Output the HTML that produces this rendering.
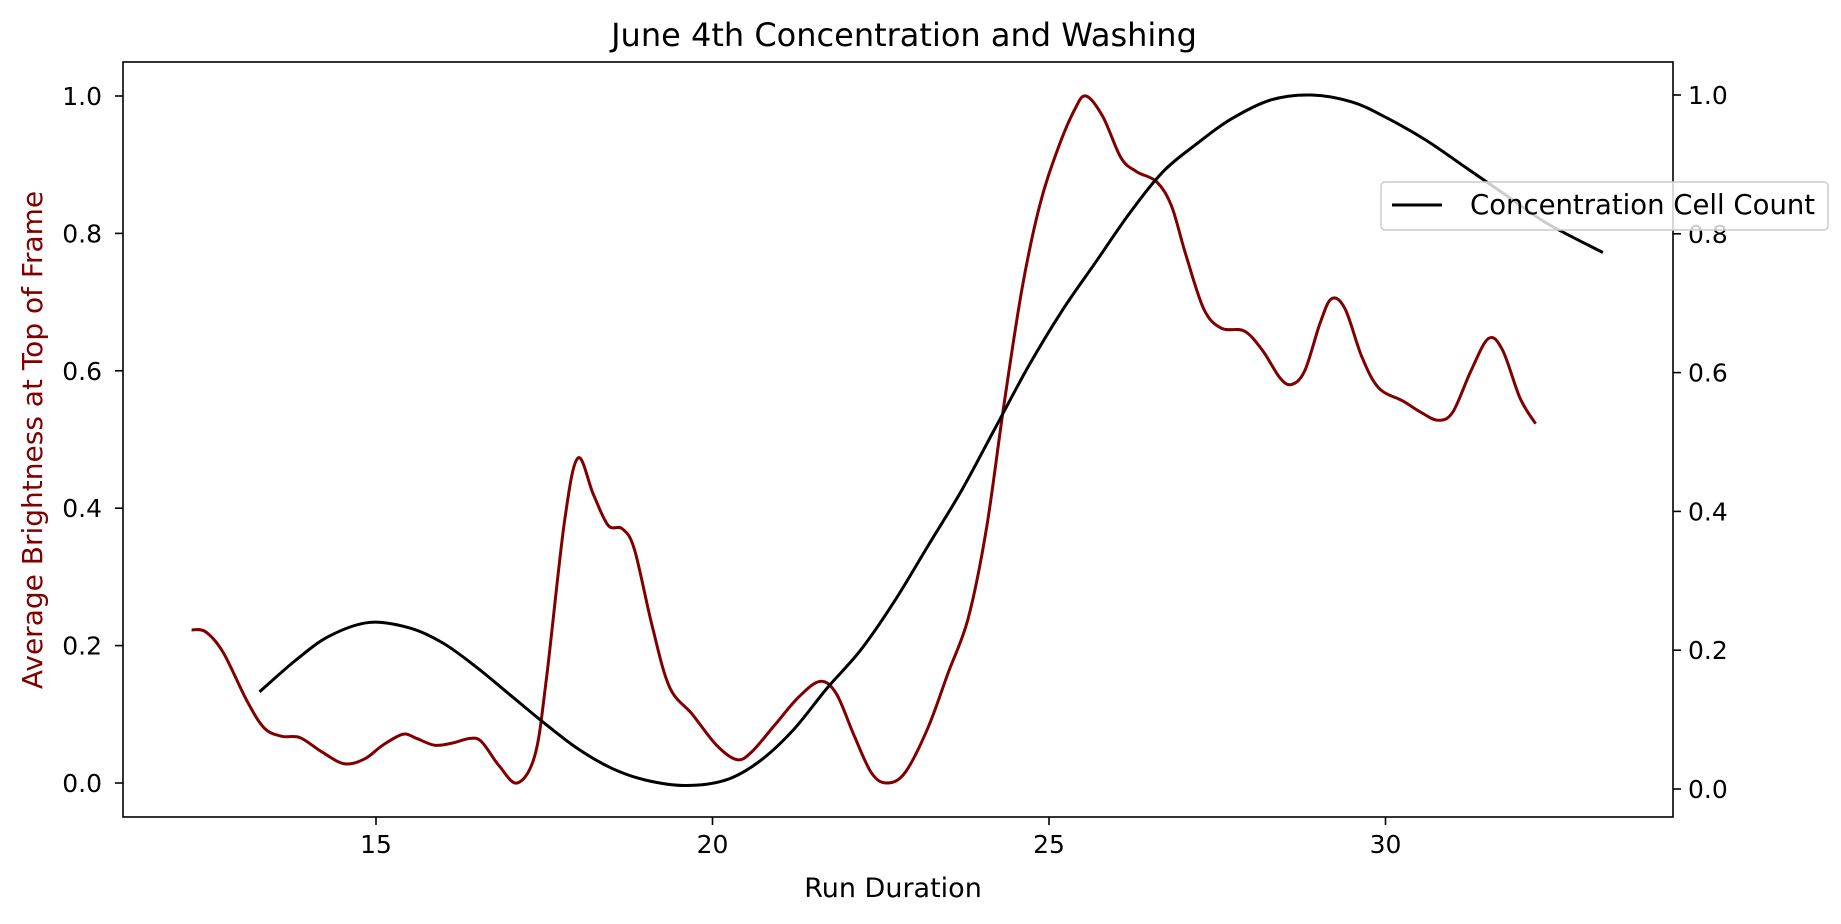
<!DOCTYPE html>
<html><head><meta charset="utf-8"><style>
body{margin:0;background:#fff;}
svg{display:block;font-family:"DejaVu Sans","Liberation Sans",sans-serif;}
</style></head><body>
<svg id="chart" width="1841" height="924">
<text x="904" y="46" font-size="32" text-anchor="middle">June 4th Concentration and Washing</text>
<rect x="123" y="62" width="1550" height="755" fill="none" stroke="#000" stroke-width="1.6"/>
<g id="xt"></g>
<g id="yl"></g>
<g id="yr"></g>
<text x="893" y="897" font-size="27" text-anchor="middle">Run Duration</text>
<text transform="translate(42,440) rotate(-90)" font-size="28" fill="#800000" text-anchor="middle">Average Brightness at Top of Frame</text>
<path id="red" fill="none" stroke="#800000" stroke-width="3"/>
<path id="blk" fill="none" stroke="#000" stroke-width="3"/>
<g>
<rect x="1381" y="182" width="447" height="48" rx="4" fill="#fff" fill-opacity="0.8" stroke="#ccc" stroke-width="1.5"/>
<line x1="1392" y1="205" x2="1442" y2="205" stroke="#000" stroke-width="3"/>
<text x="1470" y="214" font-size="27.5">Concentration Cell Count</text>
</g>
</svg>
<script>
const redX=[12.26,12.47,12.73,13.08,13.34,13.6,13.87,14.2,14.53,14.83,15.1,15.4,15.6,15.87,16.13,16.4,16.57,16.83,17.1,17.36,17.53,17.8,18.0,18.23,18.45,18.66,18.84,19.1,19.36,19.7,20.06,20.36,20.58,20.93,21.28,21.6,21.84,22.1,22.36,22.59,22.86,23.2,23.5,23.8,24.07,24.33,24.6,24.86,25.12,25.38,25.55,25.8,26.07,26.3,26.6,26.82,27.03,27.3,27.56,27.9,28.17,28.43,28.6,28.8,29.03,29.2,29.4,29.65,29.9,30.26,30.52,30.78,31.0,31.27,31.53,31.74,32.0,32.23];
const redY=[0.223,0.22,0.19,0.12,0.08,0.068,0.066,0.045,0.028,0.035,0.055,0.071,0.065,0.055,0.058,0.065,0.06,0.025,0.0,0.04,0.15,0.38,0.473,0.42,0.375,0.37,0.34,0.23,0.14,0.1,0.055,0.034,0.045,0.085,0.125,0.148,0.13,0.07,0.015,0.0,0.015,0.08,0.16,0.24,0.37,0.55,0.72,0.84,0.92,0.98,1.0,0.97,0.91,0.89,0.875,0.84,0.77,0.69,0.662,0.658,0.63,0.59,0.58,0.6,0.67,0.705,0.69,0.62,0.575,0.556,0.54,0.528,0.54,0.6,0.647,0.63,0.56,0.523];
const blkX=[13.27,13.8,14.3,14.9,15.5,16.0,16.5,17.0,17.5,18.0,18.5,19.0,19.6,20.2,20.7,21.2,21.7,22.2,22.7,23.2,23.7,24.2,24.7,25.2,25.7,26.2,26.7,27.2,27.7,28.3,28.9,29.5,30.0,30.6,31.2,31.8,32.4,33.23];
const blkY=[0.14,0.185,0.22,0.24,0.232,0.21,0.175,0.135,0.095,0.058,0.03,0.013,0.005,0.013,0.04,0.085,0.145,0.2,0.27,0.35,0.43,0.52,0.61,0.69,0.76,0.83,0.89,0.93,0.965,0.993,1.0,0.99,0.968,0.935,0.895,0.855,0.815,0.773];
const xTicks=[15,20,25,30];
const yTicks=[0.0,0.2,0.4,0.6,0.8,1.0];
const sx=v=>376+(v-15)*67.3;
const syL=v=>783-v*687;
const syR=v=>789-v*694;
const NS="http://www.w3.org/2000/svg";
function mk(tag,attrs,parent,txt){const e=document.createElementNS(NS,tag);for(const k in attrs)e.setAttribute(k,attrs[k]);if(txt!==undefined)e.textContent=txt;parent.appendChild(e);return e;}
function path(xs,ys,fy){const p=xs.map((x,i)=>[sx(x),fy(ys[i])]);let d="M"+p[0][0]+","+p[0][1];
for(let i=0;i<p.length-1;i++){const p0=p[Math.max(i-1,0)],p1=p[i],p2=p[i+1],p3=p[Math.min(i+2,p.length-1)];
d+=` C${p1[0]+(p2[0]-p0[0])/6},${p1[1]+(p2[1]-p0[1])/6} ${p2[0]-(p3[0]-p1[0])/6},${p2[1]-(p3[1]-p1[1])/6} ${p2[0]},${p2[1]}`;}return d;}
document.getElementById('red').setAttribute('d',path(redX,redY,syL));
document.getElementById('blk').setAttribute('d',path(blkX,blkY,syR));
const xt=document.getElementById('xt'),yl=document.getElementById('yl'),yr=document.getElementById('yr');
xTicks.forEach(t=>{const X=sx(t);mk('line',{x1:X,x2:X,y1:817,y2:825,stroke:'#000','stroke-width':1.6},xt);
const e=mk('text',{x:X,y:853,'font-size':25,'text-anchor':'middle'},xt,String(t));

});
yTicks.forEach(t=>{let Y=syL(t);mk('line',{x1:115,x2:123,y1:Y,y2:Y,stroke:'#000','stroke-width':1.6},yl);
const a=mk('text',{x:102,y:Y+9,'font-size':25,'text-anchor':'end'},yl,t.toFixed(1));


Y=syR(t);mk('line',{x1:1673,x2:1681,y1:Y,y2:Y,stroke:'#000','stroke-width':1.6},yr);
const b=mk('text',{x:1688,y:Y+9,'font-size':25},yr,t.toFixed(1));

});
</script>
</body></html>
